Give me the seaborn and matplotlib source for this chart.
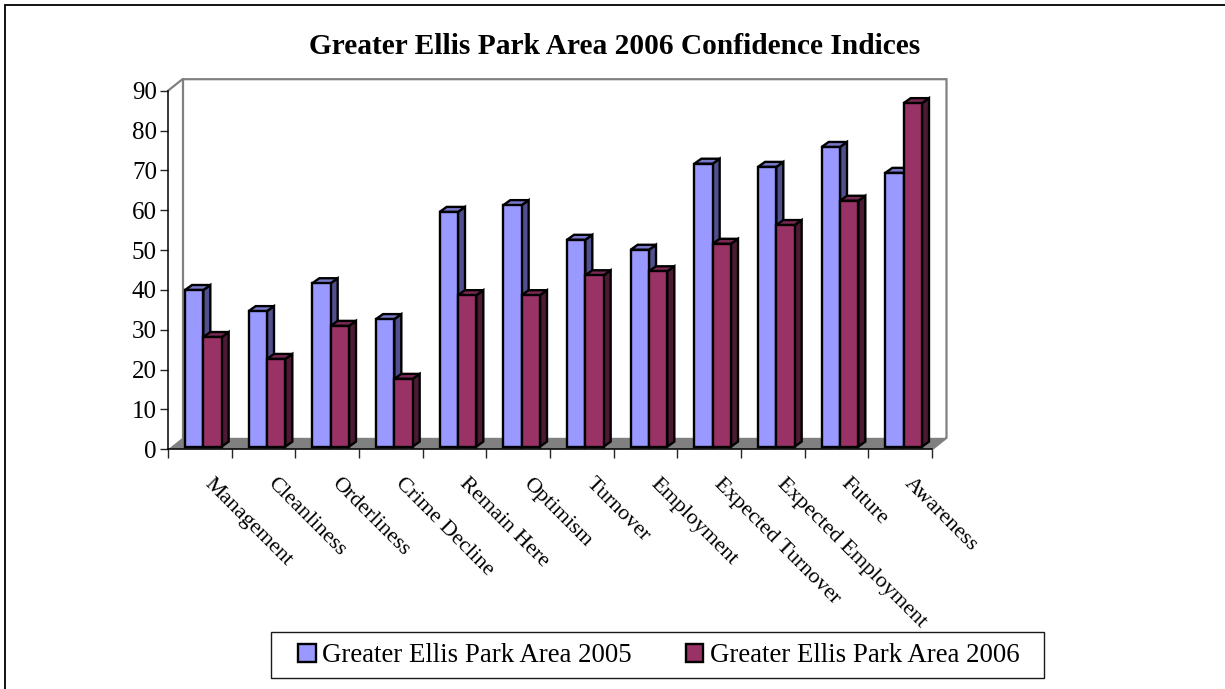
import numpy as np
import pandas as pd
import seaborn as sns
import matplotlib.pyplot as plt
from matplotlib.patches import Polygon, Rectangle
from matplotlib.transforms import Affine2D

categories = ["Management", "Cleanliness", "Orderliness", "Crime Decline", "Remain Here", "Optimism",
              "Turnover", "Employment", "Expected Turnover", "Expected Employment", "Future", "Awareness"]
values_2005 = [39.3, 34, 41, 32, 58.9, 60.6, 51.9, 49.4, 71, 70.2, 75.2, 68.7]
values_2006 = [27.5, 22, 30.3, 17, 38, 38, 43, 44, 50.9, 55.6, 61.7, 86.2]
series_names = ["Greater Ellis Park Area 2005", "Greater Ellis Park Area 2006"]
colors = ["#9999FF", "#993366"]
side_colors = ["#50508F", "#4D1A33"]
top_colors = ["#7A7ACC", "#7A2952"]

W, H = 1225, 689
sns.set_style("white")
plt.rcParams['font.family'] = ['Liberation Serif', 'DejaVu Serif']
plt.rcParams['text.color'] = 'black'
plt.rcParams['xtick.labelcolor'] = 'black'
plt.rcParams['ytick.labelcolor'] = 'black'

df = pd.DataFrame({
    "category": categories * 2,
    "value": values_2005 + values_2006,
    "series": [series_names[0]] * 12 + [series_names[1]] * 12,
})

fig = plt.figure(figsize=(W / 100, H / 100), dpi=100)
ax = fig.add_axes([168 / W, (H - 449.3) / H, 764 / W, 358.6 / H])
sns.barplot(data=df, x="category", y="value", hue="series", palette=colors, width=0.576,
            saturation=1, ax=ax, zorder=3, edgecolor="black", linewidth=1.7)
ax.set_xlim(-0.5, 11.5)
ax.set_ylim(0, 90)
ax.set_xlabel("")
ax.set_ylabel("")

# pixel sizes turned into data units for the fake 3D look
px_x = 12 / 764
px_y = 90 / 358.6
wall_dx, wall_dy = 14.5 * px_x, 11.5 * px_y
depth_dx, depth_dy = 7 * px_x, 5 * px_y
shift_x, shift_y = 3.5 * px_x, 2.7 * px_y

# back wall and floor
ax.add_patch(Polygon([(-0.5, 0), (-0.5 + wall_dx, wall_dy), (11.5 + wall_dx, wall_dy), (11.5, 0)],
                     facecolor="#808080", edgecolor="none", clip_on=False, zorder=1))
wall_x = [-0.5, -0.5 + wall_dx, 11.5 + wall_dx, 11.5 + wall_dx, 11.5]
wall_y = [90, 90 + wall_dy, 90 + wall_dy, wall_dy, 0]
ax.plot(wall_x, wall_y, color="#808080", lw=1.6, clip_on=False, zorder=1, solid_joinstyle="miter")
ax.plot([-0.5 + wall_dx] * 2, [wall_dy, 90 + wall_dy], color="#808080", lw=1.6, clip_on=False, zorder=1)

# sides and tops of the bars, 2005 first so 2006 sits in front
bars = [p for c in ax.containers for p in c]
for i, p in enumerate(bars):
    s = i // 12
    p.set_x(p.get_x() + shift_x)
    p.set_y(shift_y)
    p.set_zorder(3 + s * 2 + 1)
    x0, x1 = p.get_x(), p.get_x() + p.get_width()
    y0, y1 = p.get_y(), p.get_y() + p.get_height()
    side = [(x1, y0), (x1 + depth_dx, y0 + depth_dy), (x1 + depth_dx, y1 + depth_dy), (x1, y1)]
    top = [(x0, y1), (x0 + depth_dx, y1 + depth_dy), (x1 + depth_dx, y1 + depth_dy), (x1, y1)]
    for pts, col in [(side, side_colors[s]), (top, top_colors[s])]:
        ax.add_patch(Polygon(pts, facecolor=col, edgecolor="black", lw=1.7, clip_on=False,
                             zorder=3 + s * 2, joinstyle="miter"))

sns.despine(ax=ax, top=True, right=True)
for side_name in ["left", "bottom"]:
    ax.spines[side_name].set_linewidth(1.1)
    ax.spines[side_name].set_color("black")
    ax.spines[side_name].set_zorder(2)

ax.set_yticks(range(0, 100, 10))
ax.set_xticks(np.arange(-0.5, 12), minor=True)
ax.tick_params(axis="y", which="major", left=True, length=6, width=1, direction="out", labelsize=18, pad=2)
ax.tick_params(axis="x", which="minor", bottom=True, length=6.5, width=1, direction="out")
ax.tick_params(axis="x", which="major", bottom=False, length=0, labelsize=16, pad=18)
plt.setp(ax.get_xticklabels(), rotation=-45, ha="left", va="top", rotation_mode="anchor")
for label in ax.get_xticklabels():
    label.set_transform(label.get_transform() + Affine2D().translate(14, 0))

fig.text(615 / W, 1 - 47 / H, "Greater Ellis Park Area 2006 Confidence Indices", ha="center", va="center",
         fontsize=21.2, fontweight="bold", color="black")

# legend box
handles = [Rectangle((0, 0), 1, 1, facecolor=c, edgecolor="black", lw=1.7) for c in colors]
ax.legend_.remove()
leg = fig.legend(handles, series_names, loc="center", bbox_to_anchor=(659 / W, 1 - 656 / H), ncol=2,
                 fontsize=19.4, frameon=False, handlelength=0.65, handleheight=0.65,
                 handletextpad=0.25, columnspacing=2.0, borderpad=0, borderaxespad=0)
fig.add_artist(Rectangle((271 / W, 1 - 678 / H), 773 / W, 46 / H, transform=fig.transFigure,
                         facecolor="white", edgecolor="#1a1a1a", lw=1, zorder=-1))

# outer chart frame
fig.add_artist(Rectangle((5 / W, -2 / H), (W + 10) / W, (H - 3) / H, transform=fig.transFigure,
                         facecolor="none", edgecolor="black", lw=1.3))

fig.savefig("out.png", dpi=100)
